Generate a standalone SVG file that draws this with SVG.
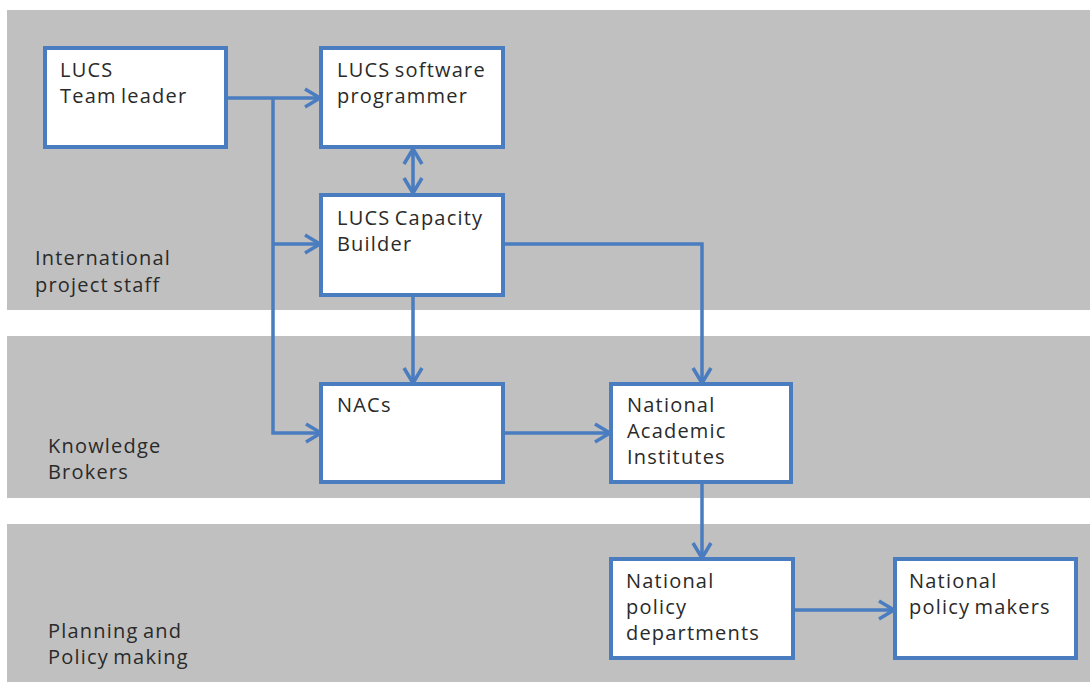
<svg xmlns="http://www.w3.org/2000/svg" width="1090" height="682" viewBox="0 0 1090 682">
  <style>
    .band { fill: #c0c0c0; }
    .box { fill: #ffffff; stroke: #4a7cc0; stroke-width: 4; }
    .lbl { font-family: "Open Sans", "Liberation Sans", sans-serif; font-size: 20px; fill: #2a2a2a; letter-spacing: 1.2px; word-spacing: -2px; }
    .conn { fill: none; stroke: #4a7cc0; stroke-width: 3.5; }
  </style>
  <defs>
    <marker id="arrow" viewBox="0 0 22 22" refX="18" refY="11" markerWidth="22" markerHeight="22" markerUnits="userSpaceOnUse" orient="auto-start-reverse">
      <path d="M3,2 L18,11 L3,20" fill="none" stroke="#4a7cc0" stroke-width="3.5" stroke-linejoin="miter"/>
    </marker>
  </defs>

  <rect width="1090" height="682" fill="#ffffff"/>

  <!-- swim lanes -->
  <g id="lanes">
    <rect class="band" x="7" y="10" width="1083" height="300"/>
    <rect class="band" x="7" y="336" width="1083" height="162"/>
    <rect class="band" x="7" y="524" width="1083" height="158"/>
    <text class="lbl"><tspan x="35" y="265">International</tspan><tspan x="35" y="292">project staff</tspan></text>
    <text class="lbl"><tspan x="48" y="453">Knowledge</tspan><tspan x="48" y="479">Brokers</tspan></text>
    <text class="lbl"><tspan x="48" y="638">Planning and</tspan><tspan x="48" y="664">Policy making</tspan></text>
  </g>

  <!-- connectors -->
  <g id="connectors">
    <path class="conn" d="M226,98 H320" marker-end="url(#arrow)"/>
    <path class="conn" d="M273,98 V433 H321" marker-end="url(#arrow)"/>
    <path class="conn" d="M273,244 H320" marker-end="url(#arrow)"/>
    <path class="conn" d="M413,149 V193" marker-start="url(#arrow)" marker-end="url(#arrow)"/>
    <path class="conn" d="M413,295 V383" marker-end="url(#arrow)"/>
    <path class="conn" d="M503,244 H702 V383" marker-end="url(#arrow)"/>
    <path class="conn" d="M503,433 H610" marker-end="url(#arrow)"/>
    <path class="conn" d="M702,482 V558" marker-end="url(#arrow)"/>
    <path class="conn" d="M793,610 H894" marker-end="url(#arrow)"/>
  </g>

  <g id="team-leader">
    <rect class="box" x="45" y="48" width="181" height="99"/>
    <text class="lbl"><tspan x="60" y="77">LUCS</tspan><tspan x="60" y="103">Team leader</tspan></text>
  </g>
  <g id="software-programmer">
    <rect class="box" x="321" y="48" width="182" height="99"/>
    <text class="lbl"><tspan x="337" y="77">LUCS software</tspan><tspan x="337" y="103">programmer</tspan></text>
  </g>
  <g id="capacity-builder">
    <rect class="box" x="321" y="195" width="182" height="100"/>
    <text class="lbl"><tspan x="337" y="225">LUCS Capacity</tspan><tspan x="337" y="251">Builder</tspan></text>
  </g>
  <g id="nacs">
    <rect class="box" x="321" y="384" width="182" height="98"/>
    <text class="lbl" x="337" y="412">NACs</text>
  </g>
  <g id="academic-institutes">
    <rect class="box" x="611" y="384" width="180" height="98"/>
    <text class="lbl"><tspan x="627" y="412">National</tspan><tspan x="627" y="438">Academic</tspan><tspan x="627" y="464">Institutes</tspan></text>
  </g>
  <g id="policy-departments">
    <rect class="box" x="611" y="559" width="182" height="99"/>
    <text class="lbl"><tspan x="626" y="588">National</tspan><tspan x="626" y="614">policy</tspan><tspan x="626" y="640">departments</tspan></text>
  </g>
  <g id="policy-makers">
    <rect class="box" x="895" y="559" width="181" height="99"/>
    <text class="lbl"><tspan x="909" y="588">National</tspan><tspan x="909" y="614">policy makers</tspan></text>
  </g>
</svg>
